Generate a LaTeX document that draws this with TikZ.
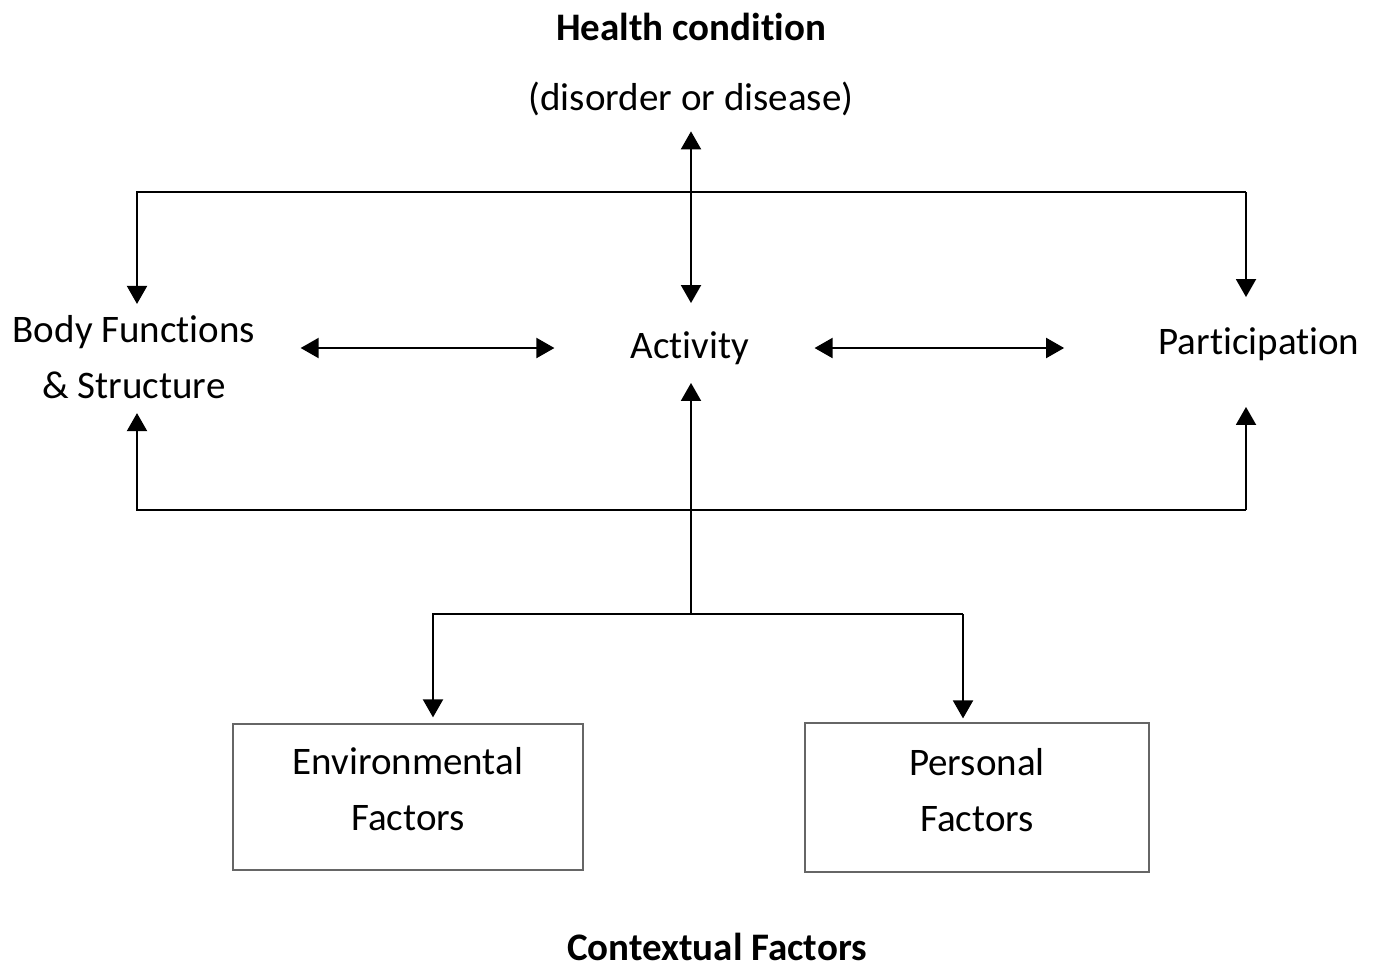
\documentclass[tikz,border=0pt]{standalone}
\usepackage{fontspec}
\setmainfont{Carlito}
\usetikzlibrary{arrows.meta}
\newcommand{\tsep}{\kern0pt}

\begin{document}
\begin{tikzpicture}[x=0.5pt,y=-0.5pt,
  txt/.style={inner sep=0pt,align=center,font=\fontsize{19.5}{28}\selectfont},
  hd/.style={txt,font=\fontsize{19.5}{28}\selectfont\bfseries},
  box/.style={txt,draw=black!60,line width=0.6pt,minimum width=#1},
  arr/.style={-{Triangle[length=9pt,width=10pt]},line width=1pt},
  dbl/.style={{Triangle[length=9pt,width=10pt]}-{Triangle[length=9pt,width=10pt]},line width=1pt}]
  \useasboundingbox (0,0) rectangle (1377,970);
  \node[hd] (health) at (691,27) {Health condit\tsep ion};
  \node[txt] (disorder) at (691,99) {(disorder or disease)};
  \node[txt] (body) at (134,357) {Body Funct\tsep ions\\ \& Structure};
  \node[txt] (activity) at (690,348) {Act\tsep ivity};
  \node[txt] (particip) at (1259,344) {Part\tsep icipat\tsep ion};
  \node[box=175pt,minimum height=73pt] (env) at (408,797) {Environmental\\Factors\rule[-8pt]{0pt}{8pt}};
  \node[box=172pt,minimum height=74.5pt] (pers) at (977,797.5) {Personal\\Factors\rule[-8pt]{0pt}{8pt}};
  \node[hd] (context) at (717,947) {Contextual Factors};
  \coordinate (tl) at (137,192);
  \coordinate (tr) at (1246,192);
  \coordinate (bl) at (137,510);
  \coordinate (br) at (1246,510);
  \coordinate (mid) at (691,614);
  \coordinate (el) at (433,614);
  \coordinate (pr) at (963,614);

  \draw[dbl,shorten <=7.5pt,shorten >=14pt] (disorder.south) -- (disorder.south |- activity.north);
  \draw[arr,shorten >=5.5pt] (tr) -- (tl) -- (tl |- body.north);
  \draw[arr,shorten >=15pt] (tr) -- (tr |- particip.north);
  \draw[arr,shorten >=7pt] (br) -- (bl) -- (bl |- body.south);
  \draw[arr,shorten >=23pt] (br) -- (br |- particip.south);
  \draw[arr,shorten >=9pt] (mid) -- (mid |- activity.south);
  \draw[dbl,shorten <=22.5pt,shorten >=38pt] (activity.west -| body.east) -- (activity.west);
  \draw[dbl,shorten <=32.5pt,shorten >=47pt] (activity.east) -- (activity.east -| particip.west);
  \draw[arr,shorten >=3pt] (pr) -- (el) -- (el |- env.north);
  \draw[arr,shorten >=2pt] (pr) -- (pr |- pers.north);
\end{tikzpicture}
\end{document}
